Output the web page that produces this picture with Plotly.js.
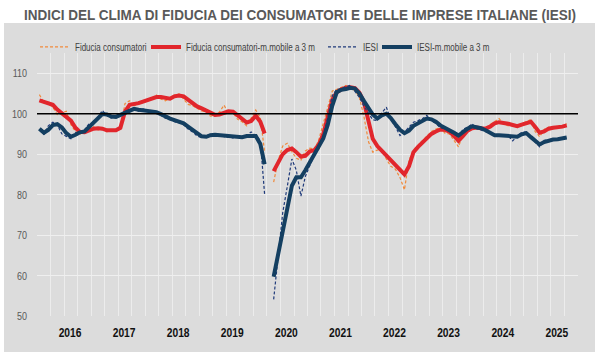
<!DOCTYPE html>
<html><head><meta charset="utf-8">
<script src="https://cdn.plot.ly/plotly-3.0.1.min.js"></script>
<style>html,body{margin:0;padding:0;background:#fff;}#chart{width:600px;height:360px;}</style>
</head><body><div id="chart"></div>
<script>
// Monthly categories: Jan 2016 .. Oct 2025
const startYear = 2016, nMonths = 118;
const months = [];
for (let i = 0; i < nMonths; i++) {
  const y = startYear + Math.floor(i / 12), m = (i % 12) + 1;
  months.push(y + '-' + String(m).padStart(2, '0') + '-01');
}
const yearLabels = ['2016','2017','2018','2019','2020','2021','2022','2023','2024','2025'];

const fiduciaConsumatori = [
 104.7,102.8,102.4,101.6,99.8,100.2,100.6,97.3,95.6,94.9,
 95.7,96.2,96.8,96.0,96.4,95.5,96.0,95.8,96.2,102.5,
 103.2,101.8,102.9,103.0,103.5,103.9,104.6,103.6,103.2,104.0,
 104.6,104.9,103.5,102.3,102.0,101.4,100.7,100.5,99.4,99.5,
 100.4,102.1,100.1,100.2,98.6,98.0,97.0,98.9,100.9,99.0,
 90.5,null,83.1,88.5,92.0,92.7,90.6,89.0,88.5,90.8,
 91.5,91.2,93.5,97.5,102.0,105.6,106.0,106.5,107.0,106.1,
 105.8,104.0,99.2,93.0,90.5,91.0,91.2,88.8,87.0,86.3,
 84.2,81.2,88.5,91.0,92.3,93.4,94.4,95.6,96.2,96.6,
 95.2,95.0,93.4,91.8,95.0,96.6,97.0,96.3,96.0,96.5,
 97.3,98.0,98.8,97.5,97.0,97.2,96.6,97.6,98.0,98.6,
 95.6,94.3,96.1,96.7,96.3,96.8,97.0,97.5];

const fiduciaConsumatoriMM3 = [
 103.3,103.0,102.6,102.2,101.0,100.0,99.3,98.3,96.5,95.5,
 95.4,95.8,96.3,96.4,96.3,95.9,95.8,95.9,96.5,100.5,
 102.2,102.3,102.6,103.0,103.4,103.8,104.1,104.1,103.8,103.7,
 104.3,104.5,104.3,103.4,102.5,101.8,101.3,100.8,100.1,99.7,
 99.8,100.3,100.6,100.5,99.5,98.6,97.8,98.2,99.5,98.0,
 95.1,null,85.8,87.8,90.0,91.0,91.4,90.5,89.4,89.6,
 90.7,91.0,92.3,95.0,99.0,103.5,105.3,106.0,106.4,106.5,
 106.3,105.2,102.8,98.3,93.8,92.0,90.8,89.7,88.6,87.4,
 86.0,85.0,87.0,90.5,91.8,92.8,94.0,95.0,95.6,96.1,
 96.0,95.6,94.5,93.3,94.5,95.8,96.4,96.6,96.4,96.3,
 96.8,97.6,97.9,97.8,97.5,97.2,96.9,97.3,97.6,98.0,
 96.8,95.3,95.6,96.3,96.5,96.6,96.8,97.1];

const iesi = [
 96.0,94.9,97.0,97.9,97.3,95.0,94.4,93.8,95.4,95.2,
 96.0,97.5,97.3,99.0,100.8,99.5,98.9,99.4,100.0,100.5,
 101.0,101.3,100.6,101.2,100.8,100.2,100.3,99.6,98.9,98.7,
 98.0,97.8,97.3,96.2,95.5,94.5,94.1,94.6,94.9,94.6,
 94.8,94.3,94.2,94.0,94.5,94.1,94.6,95.5,94.6,93.4,
 80.0,null,54.1,65.0,75.5,82.0,88.8,86.0,79.6,84.5,
 87.5,90.0,91.2,94.5,99.0,104.5,106.0,106.2,106.7,107.0,
 105.5,104.0,101.8,100.0,98.5,98.3,100.2,101.6,98.6,96.8,
 94.6,95.4,96.8,97.9,98.3,98.8,99.6,98.3,97.6,96.5,
 96.3,95.6,94.8,94.3,96.2,96.6,97.5,96.3,96.0,95.5,
 95.0,94.7,94.8,94.5,94.5,93.3,94.5,95.4,95.5,93.9,
 93.0,91.8,93.4,93.6,93.7,93.9,94.0,94.2];

const iesiMM3 = [
 96.3,95.3,96.0,97.2,97.4,96.6,95.2,94.3,94.8,95.4,
 95.6,96.6,97.6,98.8,99.9,99.8,99.3,99.2,99.7,100.3,
 100.9,101.2,101.0,100.8,100.7,100.5,100.4,99.9,99.3,98.8,
 98.4,98.0,97.6,96.8,96.0,95.2,94.4,94.3,94.7,94.8,
 94.7,94.5,94.4,94.2,94.3,94.2,94.5,94.6,94.5,92.5,
 87.5,null,59.7,65.5,70.0,76.5,82.2,84.3,84.3,86.0,
 88.0,89.8,91.7,93.9,97.2,102.0,105.3,105.9,106.1,106.4,
 106.2,105.0,103.1,101.2,99.8,98.8,99.6,100.0,98.9,97.4,
 96.0,95.2,95.8,97.0,97.7,98.4,98.8,98.6,98.0,97.1,
 96.6,96.0,95.3,94.6,95.6,96.3,96.9,96.7,96.4,95.9,
 95.2,94.7,94.7,94.6,94.4,94.2,94.3,94.9,95.2,94.2,
 93.2,92.4,93.0,93.4,93.6,93.7,93.9,94.1];

const seriesNames = ['Fiducia consumatori','Fiducia consumatori-m.mobile a 3 m','IESI','IESI-m.mobile a 3 m'];

const FONT = '"Liberation Sans", Arial, sans-serif';
const tickvals = yearLabels.map(y => y + '-07-26');
const PW = 541, PL = 37;
const px2x = p => (p - PL) / PW;

const traces = [
  {x: months, y: fiduciaConsumatori, name: seriesNames[0], mode: 'lines', legend: 'legend',
   line: {color: '#f08a3c', width: 1.2, dash: '3px,2px'}, connectgaps: false},
  {x: months, y: fiduciaConsumatoriMM3, name: seriesNames[1], mode: 'lines', legend: 'legend2',
   line: {color: '#e1262c', width: 4}, connectgaps: false},
  {x: months, y: iesi, name: seriesNames[2], mode: 'lines', legend: 'legend3',
   line: {color: '#1f3a7a', width: 1.2, dash: '3px,2px'}, connectgaps: false},
  {x: months, y: iesiMM3, name: seriesNames[3], mode: 'lines', legend: 'legend4',
   line: {color: '#143f61', width: 4}, connectgaps: false}
];

function leg(px) {
  return {orientation: 'h', x: px2x(px), xanchor: 'left', y: 1.023, yanchor: 'middle',
          font: {family: FONT, size: 10, color: '#404040'}, bgcolor: 'rgba(0,0,0,0)',
          itemwidth: 30, borderwidth: 0};
}

const layout = {
  width: 600, height: 360,
  margin: {l: PL, r: 22, t: 53, b: 44, autoexpand: false},
  paper_bgcolor: '#ffffff',
  plot_bgcolor: 'rgba(0,0,0,0)',
  showlegend: true,
  title: {text: 'INDICI DEL CLIMA DI FIDUCIA DEI CONSUMATORI E DELLE IMPRESE ITALIANE (IESI)',
          font: {family: FONT, size: 14, color: '#595959', weight: 'bold'},
          x: 0.5, xref: 'container', xanchor: 'center', y: 0.958, yref: 'container', yanchor: 'middle'},
  legend: leg(35), legend2: leg(146), legend3: leg(323), legend4: leg(377),
  xaxis: {type: 'date', range: ['2015-12-16', '2025-12-16'],
          tickmode: 'array', tickvals: tickvals, ticktext: yearLabels,
          showgrid: false, zeroline: false, showline: false, ticks: '',
          tickfont: {family: FONT, size: 12.5, color: '#111111', weight: 'bold'},
          ticklabelstandoff: 7,
          minor: {dtick: 'M3', tick0: '2015-12-16', showgrid: true, gridcolor: '#ececec', gridwidth: 1, ticks: ''}},
  yaxis: {range: [50, 115], tickvals: [50,60,70,80,90,100,110],
          showgrid: true, gridcolor: '#efefef', gridwidth: 1, zeroline: false, showline: false, ticks: '',
          tickfont: {family: FONT, size: 11.5, color: '#595959'}, ticklabelstandoff: 9},
  shapes: [
    {type: 'rect', xref: 'paper', yref: 'paper', layer: 'below',
     x0: px2x(4), x1: px2x(595), y0: (316-352)/263, y1: (316-23)/263,
     fillcolor: '#dcdcdc', line: {width: 0}},
    {type: 'line', xref: 'paper', yref: 'y', x0: 0, x1: 1, y0: 100, y1: 100,
     line: {color: '#000000', width: 1.5}, layer: 'above'}
  ]
};

// Emulate a narrow typeface (Arial Narrow) by condensing the rendered glyphs
const ctx = document.createElement('canvas').getContext('2d');
function natural(t) {
  const cs = getComputedStyle(t);
  ctx.font = (cs.fontWeight || 'normal') + ' ' + cs.fontSize + ' ' + cs.fontFamily;
  return ctx.measureText(t.textContent).width;
}
function condense(t, L) {
  t.setAttribute('textLength', L);
  t.setAttribute('lengthAdjust', 'spacingAndGlyphs');
  t.querySelectorAll('tspan').forEach(s => { s.setAttribute('textLength', L); s.setAttribute('lengthAdjust', 'spacingAndGlyphs'); });
}
function applyAll() {
  document.querySelectorAll('#chart svg text').forEach(t => {
    if (t.getAttribute('lengthAdjust')) return;
    const s = (t.textContent || '').trim();
    const w = natural(t);
    if (!w) return;
    if (s.startsWith('INDICI DEL CLIMA')) condense(t, 552);
    else if (seriesNames.includes(s)) condense(t, w * 0.8);
    else if (yearLabels.includes(s)) condense(t, w * 0.82);
    else if (/^\d+$/.test(s)) condense(t, w * 0.78);
  });
}

const gd = document.getElementById('chart');
new MutationObserver(applyAll).observe(gd, {childList: true, subtree: true});
Plotly.newPlot(gd, traces, layout, {displayModeBar: false, staticPlot: true}).then(() => {
  applyAll();
  gd.on('plotly_afterplot', applyAll);
  [0, 50, 200, 600].forEach(d => setTimeout(applyAll, d));
});
</script></body></html>
